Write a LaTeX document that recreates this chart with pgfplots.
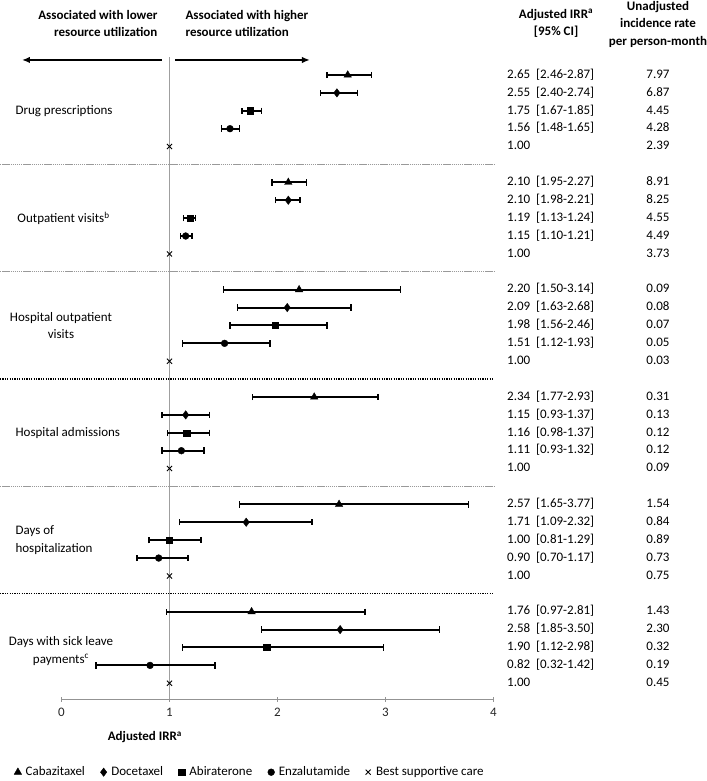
\documentclass[border=0pt]{standalone}
\usepackage{fontspec}
\setmainfont{Carlito}
\usepackage{pgfplots}
\pgfplotsset{compat=1.18}
\usepackage{pgfplotstable}
\usetikzlibrary{arrows.meta}

% row = line of the forest plot, counted from the top (6 lines per outcome)
\pgfplotstableread{
row irr lo hi
0 2.65 2.46 2.87
6 2.10 1.95 2.27
12 2.20 1.50 3.14
18 2.34 1.77 2.93
24 2.57 1.65 3.77
30 1.76 0.97 2.81
}\cab
\pgfplotstableread{
row irr lo hi
1 2.55 2.40 2.74
7 2.10 1.98 2.21
13 2.09 1.63 2.68
19 1.15 0.93 1.37
25 1.71 1.09 2.32
31 2.58 1.85 3.50
}\doc
\pgfplotstableread{
row irr lo hi
2 1.75 1.67 1.85
8 1.19 1.13 1.24
14 1.98 1.56 2.46
20 1.16 0.98 1.37
26 1.00 0.81 1.29
32 1.90 1.12 2.98
}\abi
\pgfplotstableread{
row irr lo hi
3 1.56 1.48 1.65
9 1.15 1.10 1.21
15 1.51 1.12 1.93
21 1.11 0.93 1.32
27 0.90 0.70 1.17
33 0.82 0.32 1.42
}\enz
\pgfplotstableread{
row irr
4 1.00
10 1.00
16 1.00
22 1.00
28 1.00
34 1.00
}\bsc

% text columns on the right: row, IRR, CI, unadjusted rate
\newcommand{\vals}[4]{%
  \node[txt, anchor=west] at (axis cs:4.125,#1) {#2};
  \node[txt, anchor=west] at (axis cs:4.393,#1) {#3};
  \node[txt] at (axis cs:5.523,#1) {#4};
}
\newcommand{\fnt}{\fontsize{13bp}{17.5bp}\selectfont}

\pgfplotsset{
  eb/.style={only marks, black,
    error bars/x dir=both, error bars/x explicit,
    error bars/error mark=|,
    error bars/error bar style={line width=2bp, black},
    error bars/error mark options={line width=1.4bp, mark size=3.2bp, black}},
}

\begin{document}
\begin{tikzpicture}[font=\fnt,
  txt/.style={inner sep=0pt, text height=9bp, text depth=2.5bp},
  hdr/.style={font=\fnt\bfseries}]
\useasboundingbox (0,0) rectangle (707bp,-781bp);
\begin{axis}[
  at={(61.5bp,-699bp)}, anchor=south west,
  width=432bp, height=641.9bp, scale only axis,
  xmin=0, xmax=4, ymin=-1, ymax=34.88, y dir=reverse,
  axis x line*=bottom, axis y line=none,
  clip=false,
  xtick={0,1,2,3,4},
  tick align=center, major tick length=5bp,
  x axis line style={gray!85, line width=0.8bp},
  tick style={gray!85, line width=0.8bp},
  xticklabel style={text=black!85, font=\fnt, yshift=-3bp},
  /pgf/number format/assume math mode=true,
  xlabel={Adjusted IRR\textsuperscript{a}},
  xlabel style={at={(axis description cs:0.193,-0.059)}, anchor=center, font=\fnt\bfseries},
  legend columns=5,
  legend image code/.code={\draw[#1] plot coordinates {(0cm,0cm)}; \path (6bp,0bp);},
  legend style={at={(-0.11,-0.114)}, anchor=west, draw=none, fill=none,
    font=\fnt, inner sep=0pt,
    nodes={inner sep=1.5bp},
    /tikz/every even column/.append style={column sep=14bp}},
]
% reference line at IRR = 1
\addplot[forget plot, gray!75, line width=0.8bp] coordinates {(1,-1) (1,34.88)};

\addplot[eb, mark=triangle*, mark size=4.3bp]
  table[x=irr, y=row, x error plus expr=\thisrow{hi}-\thisrow{irr},
        x error minus expr=\thisrow{irr}-\thisrow{lo}] {\cab};
\addplot[eb, mark=diamond*, mark size=4.2bp]
  table[x=irr, y=row, x error plus expr=\thisrow{hi}-\thisrow{irr},
        x error minus expr=\thisrow{irr}-\thisrow{lo}] {\doc};
\addplot[eb, mark=square*, mark size=3.1bp]
  table[x=irr, y=row, x error plus expr=\thisrow{hi}-\thisrow{irr},
        x error minus expr=\thisrow{irr}-\thisrow{lo}] {\abi};
\addplot[eb, mark=*, mark size=3.4bp]
  table[x=irr, y=row, x error plus expr=\thisrow{hi}-\thisrow{irr},
        x error minus expr=\thisrow{irr}-\thisrow{lo}] {\enz};
\addplot[only marks, mark=x, mark size=3.6bp, black, line width=0.9bp]
  table[x=irr, y=row] {\bsc};
\legend{Cabazitaxel, Docetaxel, Abiraterone, Enzalutamide, Best supportive care}

% group separators
\draw[gray!80, line width=1.3bp, dash pattern=on 1.4bp off 0.7bp] (axis cs:-0.569,5) -- (axis cs:4.005,5);
\draw[gray!80, line width=1.3bp, dash pattern=on 1.4bp off 0.7bp] (axis cs:-0.569,11) -- (axis cs:4.005,11);
\draw[black, line width=1.3bp, dash pattern=on 1.2bp off 1.2bp] (axis cs:-0.569,17) -- (axis cs:4.005,17);
\draw[gray!80, line width=1.3bp, dash pattern=on 1.4bp off 0.7bp] (axis cs:-0.569,23) -- (axis cs:4.005,23);
\draw[black, line width=1.3bp, dash pattern=on 1.2bp off 1.2bp] (axis cs:-0.569,29) -- (axis cs:4.005,29);

% arrows and headers
\draw[line width=1.8bp, -{Latex[length=8bp, width=6.5bp]}] (axis cs:0.93,-0.84) -- (axis cs:-0.366,-0.84);
\draw[line width=1.8bp, -{Latex[length=8bp, width=6.5bp]}] (axis cs:1.051,-0.84) -- (axis cs:2.30,-0.84);
\node[hdr, align=right, anchor=east] at (axis cs:0.921,-2.88) {Associated with lower\\resource utilization};
\node[hdr, align=left, anchor=west] at (axis cs:1.116,-2.88) {Associated with higher\\resource utilization};
\node[hdr, align=center] at (axis cs:4.579,-2.88) {Adjusted IRR\textsuperscript{a}\\{[}95\% CI{]}};
\node[hdr, align=center] at (axis cs:5.523,-2.85) {Unadjusted\\incidence rate\\per person-month};

% outcome labels
\node[anchor=west] at (axis cs:-0.458,2) {Drug prescriptions};
\node[anchor=west] at (axis cs:-0.44,8) {Outpatient visits\textsuperscript{b}};
\node[align=center] at (axis cs:-0.005,14) {Hospital outpatient\\visits};
\node[anchor=west] at (axis cs:-0.458,20) {Hospital admissions};
\node[align=left, anchor=west] at (axis cs:-0.458,26) {Days of\\hospitalization};
\node[align=center] at (axis cs:-0.005,32.2) {Days with sick leave\\payments\textsuperscript{c}};

% right-hand columns
\vals{0}{2.65}{[2.46-2.87]}{7.97}
\vals{1}{2.55}{[2.40-2.74]}{6.87}
\vals{2}{1.75}{[1.67-1.85]}{4.45}
\vals{3}{1.56}{[1.48-1.65]}{4.28}
\vals{4}{1.00}{}{2.39}
\vals{6}{2.10}{[1.95-2.27]}{8.91}
\vals{7}{2.10}{[1.98-2.21]}{8.25}
\vals{8}{1.19}{[1.13-1.24]}{4.55}
\vals{9}{1.15}{[1.10-1.21]}{4.49}
\vals{10}{1.00}{}{3.73}
\vals{12}{2.20}{[1.50-3.14]}{0.09}
\vals{13}{2.09}{[1.63-2.68]}{0.08}
\vals{14}{1.98}{[1.56-2.46]}{0.07}
\vals{15}{1.51}{[1.12-1.93]}{0.05}
\vals{16}{1.00}{}{0.03}
\vals{18}{2.34}{[1.77-2.93]}{0.31}
\vals{19}{1.15}{[0.93-1.37]}{0.13}
\vals{20}{1.16}{[0.98-1.37]}{0.12}
\vals{21}{1.11}{[0.93-1.32]}{0.12}
\vals{22}{1.00}{}{0.09}
\vals{24}{2.57}{[1.65-3.77]}{1.54}
\vals{25}{1.71}{[1.09-2.32]}{0.84}
\vals{26}{1.00}{[0.81-1.29]}{0.89}
\vals{27}{0.90}{[0.70-1.17]}{0.73}
\vals{28}{1.00}{}{0.75}
\vals{30}{1.76}{[0.97-2.81]}{1.43}
\vals{31}{2.58}{[1.85-3.50]}{2.30}
\vals{32}{1.90}{[1.12-2.98]}{0.32}
\vals{33}{0.82}{[0.32-1.42]}{0.19}
\vals{34}{1.00}{}{0.45}
\end{axis}
\end{tikzpicture}
\end{document}
